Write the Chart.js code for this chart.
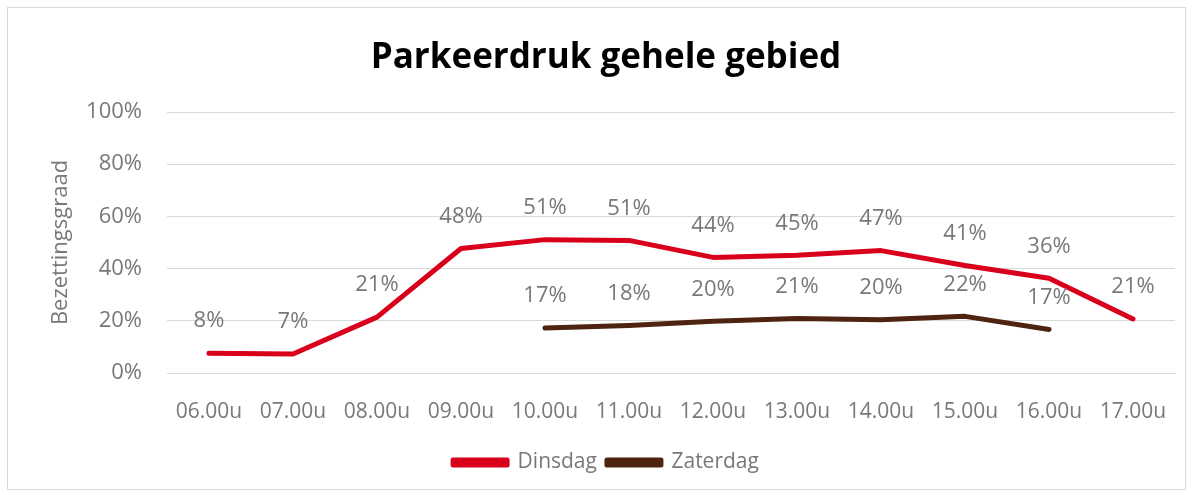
<!DOCTYPE html>
<html>
<head>
<meta charset="utf-8">
<script src="https://cdn.jsdelivr.net/npm/chart.js@4"></script>
<style>
    html, body { margin: 0; padding: 0; background: #fff; }
    #wrap { position: relative; width: 1192px; height: 495px; }
    #frame { position: absolute; left: 7px; top: 7px; width: 1177px; height: 481px; border: 1px solid #d9d9d9; }
    canvas { position: absolute; left: 0; top: 0; }
</style>
</head>
<body>
<div id="wrap">
    <div id="frame"></div>
    <canvas id="chart" width="1192" height="495"></canvas>
</div>
<script>
// Categories and series values
const hours = ['06.00u', '07.00u', '08.00u', '09.00u', '10.00u', '11.00u', '12.00u', '13.00u', '14.00u', '15.00u', '16.00u', '17.00u'];
const dinsdag = [7.6, 7.3, 21.4, 47.7, 51.1, 50.8, 44.3, 45.1, 46.9, 41.2, 36.3, 20.7];
const zaterdag = [null, null, null, null, 17.2, 18.2, 19.8, 20.9, 20.4, 21.7, 16.7, null];
const yTicks = [0, 20, 40, 60, 80, 100];

const textGray = '#787878';
const baseFont = "'Open Sans', 'Noto Sans', sans-serif";

// Draw the value labels above every point
const valueLabels = {
    id: 'valueLabels',
    afterDatasetsDraw(chart) {
        const ctx = chart.ctx;
        ctx.save();
        ctx.font = '22px ' + baseFont;
        ctx.fillStyle = textGray;
        ctx.textAlign = 'center';
        ctx.textBaseline = 'middle';
        chart.data.datasets.forEach((ds, i) => {
            const meta = chart.getDatasetMeta(i);
            meta.data.forEach((pt, j) => {
                const v = ds.data[j];
                if (v === null) return;
                ctx.fillText(Math.round(v) + '%', pt.x, pt.y - 32);
            });
        });
        ctx.restore();
    }
};

document.addEventListener('DOMContentLoaded', function() {
    const ctx = document.getElementById('chart').getContext('2d');

    new Chart(ctx, {
        type: 'line',
        data: {
            labels: hours,
            datasets: [{
                label: 'Dinsdag',
                data: dinsdag,
                borderColor: '#d9001b',
                backgroundColor: '#d9001b',
                borderWidth: 5,
                borderCapStyle: 'round',
                borderJoinStyle: 'round',
                pointRadius: 0,
                tension: 0
            }, {
                label: 'Zaterdag',
                data: zaterdag,
                borderColor: '#4e230f',
                backgroundColor: '#4e230f',
                borderWidth: 5,
                borderCapStyle: 'round',
                borderJoinStyle: 'round',
                pointRadius: 0,
                tension: 0
            }]
        },
        options: {
            responsive: false,
            animation: false,
            layout: {
                padding: { left: 37, right: 17, top: 0, bottom: 12 }
            },
            plugins: {
                title: {
                    display: true,
                    text: 'Parkeerdruk gehele gebied',
                    color: '#000',
                    font: { family: baseFont, size: 35, weight: 'bold' },
                    padding: { top: 37, bottom: 33 }
                },
                legend: {
                    position: 'bottom',
                    labels: {
                        boxWidth: 54,
                        boxHeight: 5,
                        color: textGray,
                        font: { family: baseFont, size: 21 },
                        padding: 10
                    }
                },
                tooltip: { enabled: false }
            },
            scales: {
                x: {
                    offset: true,
                    grid: { display: false },
                    border: { color: '#d9d9d9' },
                    ticks: {
                        color: textGray,
                        font: { family: baseFont, size: 21 },
                        padding: 18,
                        maxRotation: 0
                    },
                    afterFit(scale) { scale.height = 69; }
                },
                y: {
                    min: 0,
                    max: 100,
                    afterBuildTicks(scale) {
                        scale.ticks = yTicks.map(v => ({ value: v }));
                    },
                    grid: { color: '#d9d9d9', drawTicks: false },
                    border: { display: false },
                    ticks: {
                        color: textGray,
                        font: { family: baseFont, size: 22 },
                        padding: 25,
                        callback: v => v + '%'
                    },
                    title: {
                        display: true,
                        text: 'Bezettingsgraad',
                        color: textGray,
                        font: { family: baseFont, size: 22 },
                        padding: { top: 11, bottom: 0 }
                    },
                    afterFit(scale) { scale.width = 130; }
                }
            }
        },
        plugins: [valueLabels]
    });
});
</script>
</body>
</html>
